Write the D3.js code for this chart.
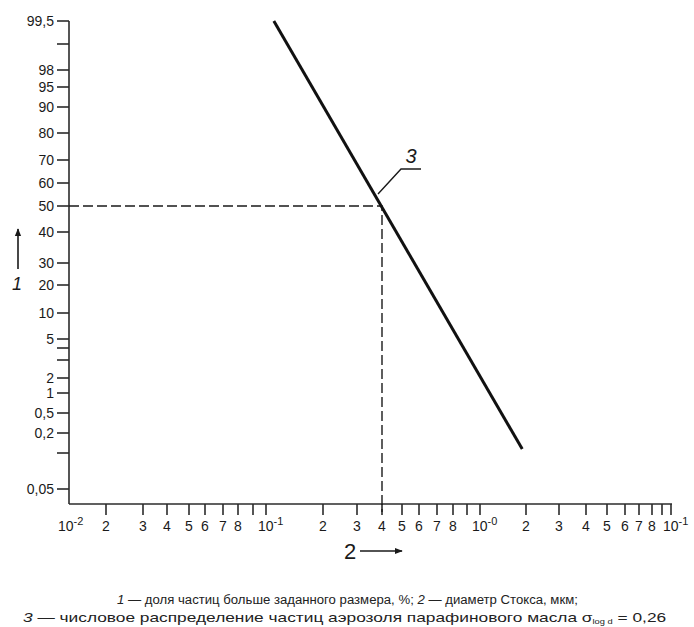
<!DOCTYPE html>
<html>
<head>
<meta charset="utf-8">
<script src="https://cdn.jsdelivr.net/npm/d3@7"></script>
<style>
  body { margin: 0; background: #fff; }
  svg { display: block; font-family: "Liberation Sans", Arial, sans-serif; }
</style>
</head>
<body>
<svg id="chart" width="694" height="627"></svg>
<script>
// probability grid ticks (% of particles bigger than size)
var yTickVals = [99.5, 99, 98, 95, 90, 80, 70, 60, 50, 40, 30, 20, 10, 5, 4, 3, 2, 1, 0.5, 0.2, 0.1, 0.05];
var yTickLabels = ['99,5', '', '98', '95', '90', '80', '70', '60', '50', '40', '30', '20', '10', '5', '', '', '2', '1', '0,5', '0,2', '', '0,05'];

// Stokes diameter ticks, um
var xTickVals = [0.01, 0.02, 0.03, 0.04, 0.05, 0.06, 0.07, 0.08, 0.09,
                 0.1, 0.2, 0.3, 0.4, 0.5, 0.6, 0.7, 0.8, 0.9,
                 1, 2, 3, 4, 5, 6, 7, 8, 9, 10];
var xTickLabels = ['10|-2', '2', '3', '4', '5', '6', '7', '8', '',
                   '10|-1', '2', '3', '4', '5', '6', '7', '8', '',
                   '10|-0', '2', '3', '4', '5', '6', '7', '8', '',
                   '10|-1'];

// curve 3: paraffin oil aerosol, sigma log d = 0.26
var lineDiam = [0.110, 1.89];
var linePct = [99.5, 0.115];
var medianDiam = 0.4;
var medianPct = 50;

// the printed grid is hand drawn, so the scales are pinned to where the ticks sit
var yGridPx = [21, 44, 70, 87, 107, 133, 160, 183, 206, 232, 263, 285, 313, 339, 348, 360, 378, 393, 413, 433, 453, 489];
var xGridPx = [66, 106, 143, 167, 189, 205, 223, 238, 253,
               266, 323, 357, 382, 402, 419, 437, 453, 467,
               480, 526, 559, 586, 607, 625, 639, 652, 662, 671];

// inverse normal cdf (Acklam)
function probit(pct) {
    var p = pct / 100;
    var a = [-39.6968302866538, 220.946098424521, -275.928510446969, 138.357751867269, -30.6647980661472, 2.50662827745924],
        b = [-54.4760987982241, 161.585836858041, -155.698979859887, 66.8013118877197, -13.2806815528857],
        c = [-0.00778489400243029, -0.322396458041136, -2.40075827716184, -2.54973253934373, 4.37466414146497, 2.93816398269878],
        d = [0.00778469570904146, 0.32246712907004, 2.445134137143, 3.75440866190742];
    var q, r;
    if (p < 0.02425) {
        q = Math.sqrt(-2 * Math.log(p));
        return (((((c[0]*q+c[1])*q+c[2])*q+c[3])*q+c[4])*q+c[5]) / ((((d[0]*q+d[1])*q+d[2])*q+d[3])*q+1);
    }
    if (p > 1 - 0.02425) {
        q = Math.sqrt(-2 * Math.log(1 - p));
        return -(((((c[0]*q+c[1])*q+c[2])*q+c[3])*q+c[4])*q+c[5]) / ((((d[0]*q+d[1])*q+d[2])*q+d[3])*q+1);
    }
    q = p - 0.5; r = q * q;
    return (((((a[0]*r+a[1])*r+a[2])*r+a[3])*r+a[4])*r+a[5])*q / (((((b[0]*r+b[1])*r+b[2])*r+b[3])*r+b[4])*r+1);
}

var svg = d3.select('#chart');
var ink = '#1a1a1a';

var x = d3.scaleLog().domain(xTickVals).range(xGridPx);
var zy = d3.scaleLinear().domain(yTickVals.map(probit)).range(yGridPx);
var y = function (p) { return zy(probit(p)); };

var axisY = 504, axisX = 69;

// axes lines
svg.append('line')
    .attr('x1', axisX).attr('x2', axisX)
    .attr('y1', y(99.5)).attr('y2', axisY)
    .attr('stroke', '#2b2b2b').attr('stroke-width', 1.6);
svg.append('line')
    .attr('x1', axisX).attr('x2', x(10) + 1)
    .attr('y1', axisY).attr('y2', axisY)
    .attr('stroke', '#2b2b2b').attr('stroke-width', 1.6);

// y ticks
var yt = svg.append('g').selectAll('g')
    .data(yTickVals)
    .enter().append('g')
        .attr('transform', function (d) { return 'translate(0,' + y(d) + ')'; });
yt.append('line')
    .attr('x1', axisX - 12).attr('x2', axisX)
    .attr('stroke', '#2b2b2b').attr('stroke-width', 1.6);
yt.append('text')
    .attr('x', axisX - 15)
    .attr('dy', '0.36em')
    .attr('text-anchor', 'end')
    .attr('font-size', 14)
    .attr('fill', ink)
    .text(function (d, i) { return yTickLabels[i]; });

// x ticks
var xt = svg.append('g').selectAll('g')
    .data(xTickVals)
    .enter().append('g')
        .attr('transform', function (d) { return 'translate(' + x(d) + ',0)'; });
xt.filter(function (d, i) { return i > 0; }).append('line')
    .attr('y1', axisY).attr('y2', axisY + 11)
    .attr('stroke', '#2b2b2b').attr('stroke-width', 1.6);
xt.each(function (d, i) {
    var lab = xTickLabels[i];
    if (!lab) return;
    var g = d3.select(this);
    var parts = lab.split('|');
    if (parts.length === 1) {
        g.append('text')
            .attr('y', 531)
            .attr('text-anchor', 'middle')
            .attr('font-size', 14)
            .attr('fill', ink)
            .text(lab);
    } else {
        var t = g.append('text')
            .attr('x', -8)
            .attr('y', 531)
            .attr('font-size', 14)
            .attr('fill', ink);
        t.append('tspan').text(parts[0]);
        t.append('tspan')
            .attr('dy', -6)
            .attr('font-size', 11)
            .text(parts[1]);
    }
});

// dashed guides to the median
svg.append('path')
    .attr('d', 'M' + axisX + ',' + y(medianPct) + 'H' + x(medianDiam) + 'V' + (axisY + 8))
    .attr('fill', 'none')
    .attr('stroke', ink)
    .attr('stroke-width', 1.4)
    .attr('stroke-dasharray', '10,4');

// curve 3
var line = d3.line()
    .x(function (d) { return x(d[0]); })
    .y(function (d) { return y(d[1]); });
svg.append('path')
    .datum(d3.zip(lineDiam, linePct))
    .attr('d', line)
    .attr('fill', 'none')
    .attr('stroke', '#111')
    .attr('stroke-width', 3);

// leader and label 3
var mx = x(medianDiam), my = y(medianPct);
svg.append('path')
    .attr('d', 'M' + (mx - 4) + ',' + (my - 12) + 'L' + (mx + 19) + ',' + (my - 37) + 'H' + (mx + 39))
    .attr('fill', 'none')
    .attr('stroke', ink)
    .attr('stroke-width', 1.4);
svg.append('text')
    .attr('x', mx + 29).attr('y', my - 43)
    .attr('text-anchor', 'middle')
    .attr('font-size', 20)
    .attr('font-style', 'italic')
    .attr('fill', ink)
    .text('3');

// axis names with arrows
svg.append('defs').append('marker')
    .attr('id', 'head')
    .attr('viewBox', '0 0 10 10')
    .attr('refX', 9).attr('refY', 5)
    .attr('markerWidth', 5).attr('markerHeight', 5)
    .attr('orient', 'auto')
  .append('path')
    .attr('d', 'M0,1L10,5L0,9Z')
    .attr('fill', ink);

svg.append('line')
    .attr('x1', 18).attr('x2', 18)
    .attr('y1', 269).attr('y2', 229)
    .attr('stroke', ink).attr('stroke-width', 1.6)
    .attr('marker-end', 'url(#head)');
svg.append('text')
    .attr('x', 17).attr('y', 290)
    .attr('text-anchor', 'middle')
    .attr('font-size', 18)
    .attr('font-style', 'italic')
    .attr('fill', ink)
    .text('1');

svg.append('text')
    .attr('x', 350).attr('y', 559)
    .attr('text-anchor', 'middle')
    .attr('font-size', 22)
    .attr('fill', ink)
    .text('2');
svg.append('line')
    .attr('x1', 360).attr('x2', 402)
    .attr('y1', 551).attr('y2', 551)
    .attr('stroke', ink).attr('stroke-width', 1.6)
    .attr('marker-end', 'url(#head)');

// caption: each line is measured, then stretched to the printed width
function fitLine(g, left, base, width) {
    var t = g.select('text');
    var w = t.node().getComputedTextLength();
    g.attr('transform', 'translate(' + left + ',' + base + ') scale(' + (width / w) + ',1)');
}

var g1 = svg.append('g');
var cap1 = g1.append('text')
    .attr('font-size', 13.5)
    .attr('fill', '#222');
cap1.append('tspan').attr('font-style', 'italic').text('1');
cap1.append('tspan').text(' — доля частиц больше заданного размера, %; ');
cap1.append('tspan').attr('font-style', 'italic').text('2');
cap1.append('tspan').text(' — диаметр Стокса, мкм;');
fitLine(g1, 117, 604, 461);

var g2 = svg.append('g');
var cap2 = g2.append('text')
    .attr('font-size', 13)
    .attr('fill', '#222');
cap2.append('tspan').attr('font-style', 'italic').text('3');
cap2.append('tspan').text('  — числовое распределение частиц аэрозоля парафинового масла σ');
cap2.append('tspan').attr('font-size', 7).attr('dy', 2).text('log d');
cap2.append('tspan').attr('dy', -2).text(' = 0,26');
fitLine(g2, 23, 622, 644);
</script>
</body>
</html>
